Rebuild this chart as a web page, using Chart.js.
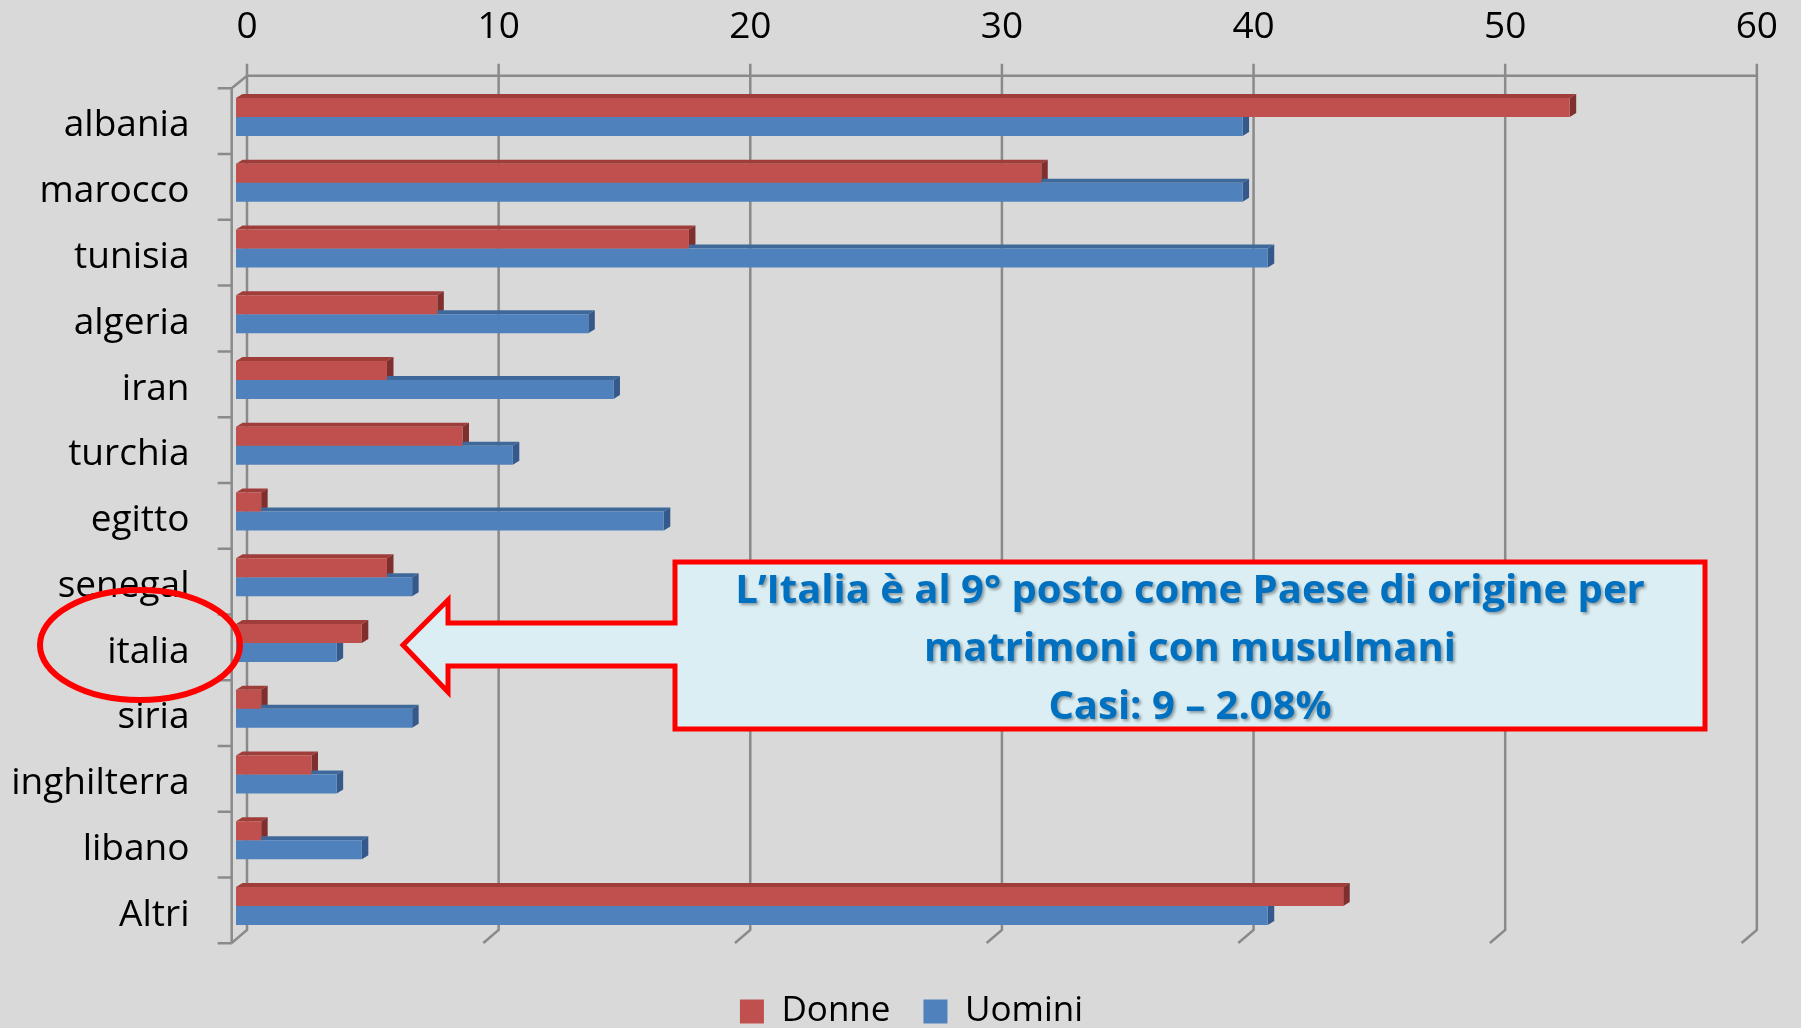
<!DOCTYPE html>
<html>
<head>
<meta charset="utf-8">
<title>Matrimoni con musulmani per Paese di origine</title>
<script src="https://cdn.jsdelivr.net/npm/chart.js@4.4.0/dist/chart.umd.min.js"></script>
<style>
    html, body { margin: 0; padding: 0; background: #d9d9d9; overflow: hidden; }
    canvas { display: block; }
</style>
</head>
<body>
<canvas id="chart" width="1801" height="1028"></canvas>
<script>
// Chart data
const countries = ["albania", "marocco", "tunisia", "algeria", "iran", "turchia", "egitto", "senegal", "italia", "siria", "inghilterra", "libano", "Altri"];
const donne = [53, 32, 18, 8, 6, 9, 1, 6, 5, 1, 3, 1, 44];
const uomini = [40, 40, 41, 14, 15, 11, 17, 7, 4, 7, 4, 5, 41];
const seriesNames = ["Donne", "Uomini"];
const xTicks = [0, 10, 20, 30, 40, 50, 60];

// Callout text
const highlighted = "italia";
const calloutLines = ["L’Italia è al 9° posto come Paese di origine per", "matrimoni con musulmani", "Casi: 9 – 2.08%"];

// Colours (front face, top face, side face)
const barColors = [
    { front: "#c0504d", top: "#9e3d3a", side: "#7f2f2d" },
    { front: "#4f81bd", top: "#3e6899", side: "#35598a" },
];
const gridColor = "#8a8a8a";
const font = "'Open Sans', sans-serif";

/**
 * Fills a closed polygon
 */
function poly(ctx, pts) {
    ctx.beginPath();
    ctx.moveTo(pts[0][0], pts[0][1]);
    for (let i = 1; i < pts.length; i++) ctx.lineTo(pts[i][0], pts[i][1]);
    ctx.closePath();
    ctx.fill();
}

/**
 * Draws the 3D walls, the bar depth and the callout
 */
const look3d = {
    id: "look3d",
    afterLayout(chart) {
        // Legend sits a little right of the page centre
        chart.legend.left += 11;
        chart.legend.right += 11;
    },
    beforeDraw(chart) {
        const { ctx, width, height } = chart;
        ctx.save();
        ctx.fillStyle = "#d9d9d9";
        ctx.fillRect(0, 0, width, height);
        ctx.restore();
    },
    beforeDatasetsDraw(chart) {
        const { ctx, chartArea: a, scales: { x } } = chart;
        const backTop = a.top - 8.3;
        const backBottom = a.bottom - 9;
        const frontTop = a.top + 4.3;
        const frontBottom = a.bottom + 4;
        const frontLeft = a.left - 4.3;

        ctx.save();
        ctx.strokeStyle = gridColor;
        ctx.lineWidth = 2.5;
        ctx.beginPath();
        // Gridlines on the back wall, going down to the floor edge
        xTicks.forEach(v => {
            const px = x.getPixelForValue(v);
            ctx.moveTo(px + 11, backTop - 12);
            ctx.lineTo(px + 11, backBottom);
            ctx.lineTo(px - 4.3, frontBottom);
        });
        // Top edge of the walls
        ctx.moveTo(frontLeft, frontTop);
        ctx.lineTo(x.getPixelForValue(xTicks[0]) + 11, backTop);
        ctx.lineTo(x.getPixelForValue(xTicks[xTicks.length - 1]) + 11, backTop);
        // Category axis with its ticks
        ctx.moveTo(frontLeft, frontTop);
        ctx.lineTo(frontLeft, frontBottom);
        const step = (a.bottom - a.top) / countries.length;
        for (let i = 0; i <= countries.length; i++) {
            ctx.moveTo(frontLeft - 14, frontTop + i * step);
            ctx.lineTo(frontLeft, frontTop + i * step);
        }
        ctx.stroke();

        // Top and side faces of every bar
        const dx = 6.5, dy = 4;
        chart.data.datasets.forEach((ds, di) => {
            chart.getDatasetMeta(di).data.forEach(bar => {
                const { x: end, y: mid, base, height } = bar.getProps(["x", "y", "base", "height"], true);
                const top = mid - height / 2;
                const bottom = mid + height / 2;
                ctx.fillStyle = barColors[di].top;
                poly(ctx, [[base, top], [base + dx, top - dy], [end + dx, top - dy], [end, top]]);
                ctx.fillStyle = barColors[di].side;
                poly(ctx, [[end, top], [end + dx, top - dy], [end + dx, bottom - dy], [end, bottom]]);
            });
        });
        ctx.restore();
    },
    afterDraw(chart) {
        const { ctx, chartArea: a, scales: { y } } = chart;
        const cy = y.getPixelForValue(countries.indexOf(highlighted)) + 2;
        const tip = a.left + 167;

        ctx.save();
        ctx.strokeStyle = "#ff0000";

        // Ellipse round the highlighted label
        ctx.lineWidth = 6;
        ctx.beginPath();
        ctx.ellipse(a.left - 96, cy, 100, 55, 0, 0, Math.PI * 2);
        ctx.stroke();

        // Left arrow callout
        const left = tip + 272, right = tip + 1302;
        ctx.beginPath();
        ctx.moveTo(left, cy - 83);
        ctx.lineTo(right, cy - 83);
        ctx.lineTo(right, cy + 84);
        ctx.lineTo(left, cy + 84);
        ctx.lineTo(left, cy + 21);
        ctx.lineTo(tip + 45, cy + 21);
        ctx.lineTo(tip + 45, cy + 47);
        ctx.lineTo(tip, cy);
        ctx.lineTo(tip + 45, cy - 45);
        ctx.lineTo(tip + 45, cy - 22);
        ctx.lineTo(left, cy - 22);
        ctx.closePath();
        ctx.fillStyle = "#daeef3";
        ctx.fill();
        ctx.lineWidth = 5;
        ctx.lineJoin = "miter";
        ctx.stroke();

        // Callout text
        ctx.font = "bold 40px " + font;
        ctx.fillStyle = "#0070c0";
        ctx.textAlign = "center";
        ctx.textBaseline = "alphabetic";
        ctx.shadowColor = "rgba(0, 0, 0, 0.35)";
        ctx.shadowOffsetX = 2;
        ctx.shadowOffsetY = 2;
        ctx.shadowBlur = 3;
        calloutLines.forEach((line, i) => {
            ctx.fillText(line, (left + right) / 2, cy - 42 + i * 58);
        });
        ctx.restore();
    },
};

function makeChart() {
    new Chart(document.getElementById("chart"), {
        type: "bar",
        data: {
            labels: countries,
            datasets: [
                { label: seriesNames[0], data: donne, backgroundColor: barColors[0].front, borderWidth: 0, xAxisID: "x", yAxisID: "y" },
                { label: seriesNames[1], data: uomini, backgroundColor: barColors[1].front, borderWidth: 0, xAxisID: "x", yAxisID: "y" },
            ],
        },
        options: {
            indexAxis: "y",
            responsive: false,
            animation: false,
            events: [],
            layout: { padding: { top: 0, right: 0, bottom: -11, left: 0 } },
            datasets: { bar: { categoryPercentage: 0.578, barPercentage: 1 } },
            scales: {
                x: {
                    position: "top",
                    min: 0,
                    max: 60,
                    afterBuildTicks: s => {
                        s.ticks = xTicks.map(v => ({ value: v }));
                    },
                    afterFit: s => {
                        s.height = 84;
                    },
                    grid: { display: false, drawTicks: false },
                    border: { display: false },
                    ticks: { font: { family: font, size: 37 }, color: "#000", padding: 34, labelOffset: 11, maxRotation: 0, autoSkip: false },
                },
                y: {
                    afterFit: s => {
                        s.width = 236;
                    },
                    grid: { display: false, drawTicks: false },
                    border: { display: false },
                    ticks: { font: { family: font, size: 37 }, color: "#000", padding: 46.5, labelOffset: 9 },
                },
                // Empty axes used as room: floor below the bars, margin on the right
                gap: {
                    type: "linear",
                    position: "bottom",
                    afterFit: s => {
                        s.height = 22;
                    },
                    grid: { display: false, drawTicks: false },
                    border: { display: false },
                    ticks: { display: false },
                },
                edge: {
                    type: "linear",
                    position: "right",
                    afterFit: s => {
                        s.width = 53;
                    },
                    grid: { display: false, drawTicks: false },
                    border: { display: false },
                    ticks: { display: false },
                },
            },
            plugins: {
                tooltip: { enabled: false },
                legend: {
                    position: "bottom",
                    labels: { font: { family: font, size: 35 }, color: "#000", boxWidth: 24, boxHeight: 24, padding: 33 },
                },
            },
        },
        plugins: [look3d],
    });
}

// Wait for the fonts before drawing
Promise.all([document.fonts.load("37px 'Open Sans'"), document.fonts.load("bold 40px 'Open Sans'")]).then(makeChart, makeChart);
</script>
</body>
</html>
